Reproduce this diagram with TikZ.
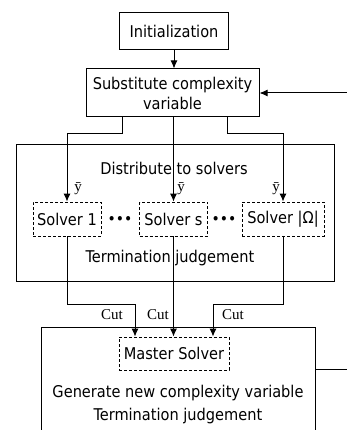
\documentclass[tikz,border=0pt]{standalone}
\usepackage{fontspec}
\setmainfont{DejaVu Sans Condensed}
\newfontfamily\serifcut{Liberation Serif}
\usetikzlibrary{arrows.meta,calc}
\begin{document}
\begin{tikzpicture}[x=1pt,y=-1pt,
  every node/.style={font=\fontsize{16.2}{20}\selectfont},
  box/.style={draw,line width=1pt,inner sep=0pt,align=center},
  dbox/.style={draw,line width=0.9pt,dash pattern=on 3pt off 2pt,inner sep=0pt,minimum height=34pt},
  arr/.style={-{Latex[length=8pt,width=7pt]},line width=1pt},
  lbl/.style={font=\serifcut\fontsize{15}{16}\selectfont,inner sep=0pt},
  plain/.style={inner sep=0pt}]
\useasboundingbox (0,0) rectangle (347,430);
\clip (0,0) rectangle (347,430);
\fill[white] (0,0) rectangle (347,430);

\node[box,minimum width=109pt,minimum height=37pt] (init) at (174,31.5) {Initialization};
\node[box,minimum width=173pt,minimum height=48pt] (subst) at (172.5,93) {Substitute complexity\\variable};

\node[box,minimum width=318pt,minimum height=136pt] (dist) at (175,213) {};
\node[plain] (disttxt) at (174,168) {Distribute to solvers};
\node[plain] (termtxt) at (170,258) {Termination judgement};

\node[dbox,minimum width=68pt] (s1) at (67,219) {Solver 1};
\node[dbox,minimum width=68pt] (ss) at (173.5,219) {Solver s};
\node[dbox,minimum width=82pt] (so) at (283,219) {Solver |Ω|};
\node[plain,font=\fontsize{15.5}{15}\selectfont] (d1) at (120,220) {•••};
\node[plain,font=\fontsize{15.5}{15}\selectfont] (d2) at (224,220) {•••};

\node[box,minimum width=274pt,minimum height=140pt] (mast) at (178,397) {};
\node[dbox,minimum width=110pt,minimum height=33pt] (ms) at (174,353.5) {Master Solver};
\node[plain] (gentxt) at (178,393) {Generate new complexity variable};
\node[plain] (term2) at (178,416) {Termination judgement};

\coordinate (fbA) at (360,369);
\coordinate (fbB) at (360,93);

% init -> subst
\draw[arr] (init.south) -- (subst.north -| init.south);
% subst -> solvers
\draw[arr] ([xshift=-50.5pt]subst.south) -- ++(0,16) -| (s1.north);
\draw[arr] (subst.south -| ss.north) -- (ss.north);
\draw[arr] ([xshift=54.5pt]subst.south) -- ++(0,16) -| (so.north);
% labels ybar
\node[lbl] (y1) at (78,189) {ȳ};
\node[lbl] (y2) at (181,189) {ȳ};
\node[lbl] (y3) at (276,189) {ȳ};
% solvers -> master
\draw[arr] (s1.south) -- ++(0,68) -| ([xshift=-39pt]ms.north);
\draw[arr] (ss.south) -- (ms.north -| ss.south);
\draw[arr] (so.south) -- ++(0,68) -| ([xshift=39pt]ms.north);
\node[lbl] (c1) at (112,315) {Cut};
\node[lbl] (c2) at (158,315) {Cut};
\node[lbl] (c3) at (233,315) {Cut};
% feedback
\draw[arr] (mast.east |- fbA) -- (fbA) -- (fbB) -- (subst.east);
\end{tikzpicture}
\end{document}
